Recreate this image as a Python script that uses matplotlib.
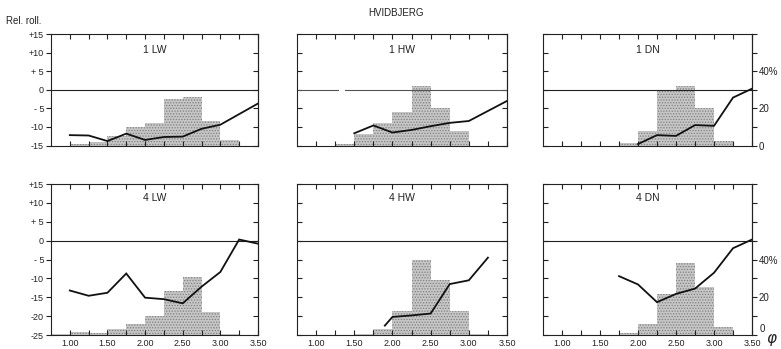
import numpy as np
import matplotlib
matplotlib.use('Agg')
import matplotlib.pyplot as plt

plt.rcParams['font.family'] = ['Liberation Sans', 'DejaVu Sans']
plt.rcParams['hatch.linewidth'] = 0.6
plt.rcParams['hatch.color'] = '#808080'

# classes de phi (limite esquerda, largura 0.25)
bins = np.arange(0.75, 3.50, 0.25)

# frequencia (%) por classe -- eixo da direita
freq_1lw = [0, 1, 2, 5, 10, 12, 25, 26, 13, 3, 0]
freq_1hw = [0, 0, 1, 6, 12, 18, 32, 20, 8, 0, 0]
freq_1dn = [0, 0, 0, 0, 1.5, 8, 30, 32, 20, 2.5, 0]
freq_4lw = [0.6, 1.8, 1.2, 3, 6, 10, 23.5, 30.5, 12, 0.6, 0]
freq_4hw = [0, 0, 0, 0.8, 3, 12.5, 40, 29, 12.5, 0.8, 0]
freq_4dn = [0, 0, 0, 0, 1, 6, 21.5, 38, 25.5, 4, 0]

# rolamento relativo
x_1lw = [1.00, 1.25, 1.50, 1.75, 2.00, 2.25, 2.50, 2.75, 3.00, 3.50]
y_1lw = [-12.2, -12.3, -13.8, -11.8, -13.5, -12.7, -12.6, -10.5, -9.4, -3.7]
x_1hw = [1.50, 1.75, 2.00, 2.25, 2.50, 2.75, 3.00, 3.50]
y_1hw = [-11.7, -9.6, -11.5, -10.8, -9.8, -8.9, -8.4, -3.0]
x_1dn = [2.00, 2.25, 2.50, 2.75, 3.00, 3.25, 3.50]
y_1dn = [-14.6, -12.2, -12.4, -9.5, -9.7, -2.1, 0.3]
x_4lw = [1.00, 1.25, 1.50, 1.75, 2.00, 2.25, 2.50, 2.75, 3.00, 3.25, 3.50]
y_4lw = [-13.2, -14.6, -13.8, -8.7, -15.1, -15.5, -16.6, -12.2, -8.3, 0.3, -0.8]
x_4hw = [1.90, 2.00, 2.25, 2.50, 2.75, 3.00, 3.25]
y_4hw = [-22.5, -20.2, -19.8, -19.3, -11.5, -10.5, -4.5]
x_4dn = [1.75, 2.00, 2.25, 2.50, 2.75, 3.00, 3.25, 3.50]
y_4dn = [-9.4, -11.6, -16.3, -14.1, -12.7, -8.5, -2.0, 0.3]

yt_top = [15, 10, 5, 0, -5, -10, -15]
yl_top = ['+15', '+10', '+ 5', '0', '- 5', '-10', '-15']
yt_bot = [15, 10, 5, 0, -5, -10, -15, -20, -25]
yl_bot = ['+15', '+10', '+ 5', '0', '- 5', '-10', '-15', '-20', '-25']

xt = np.arange(1.0, 3.51, 0.25)
xl = ['%.2f' % v if abs(v * 2 - round(v * 2)) < 1e-6 else '' for v in xt]

fig = plt.figure(figsize=(7.81, 3.49), dpi=100)

lefts = [0.0653, 0.3803, 0.6953]
widths = [0.2650, 0.2689, 0.2676]

paineis = [
    ('1 LW', freq_1lw, x_1lw, y_1lw, 0, 0),
    ('1 HW', freq_1hw, x_1hw, y_1hw, 0, 1),
    ('1 DN', freq_1dn, x_1dn, y_1dn, 0, 2),
    ('4 LW', freq_4lw, x_4lw, y_4lw, 1, 0),
    ('4 HW', freq_4hw, x_4hw, y_4hw, 1, 1),
    ('4 DN', freq_4dn, x_4dn, y_4dn, 1, 2),
]

fs = 6.5
cor = '#222222'
for nome, freq, xs, ys, lin, col in paineis:
    if lin == 0:
        ax = fig.add_axes([lefts[col], 0.583, widths[col], 0.3195])
        ymin, ymax = -15, 15
        yt, yl = yt_top, yl_top
        tpos = 0.855
    else:
        ax = fig.add_axes([lefts[col], 0.040, widths[col], 0.4327])
        ymin, ymax = -25, 15
        yt, yl = yt_bot, yl_bot
        tpos = 0.905

    # histograma pontilhado (% -> unidades do eixo: 2 % por unidade)
    alt = np.array(freq) / 2.0
    ax.bar(bins, alt, width=0.25, bottom=ymin, align='edge',
           facecolor='#c6c6c6', edgecolor='#808080', hatch='......',
           linewidth=0, zorder=1)

    # linha do zero (no 1 HW tem uma falha no tracado)
    if nome == '1 HW':
        ax.plot([0.75, 1.29], [0, 0], color='#555555', lw=0.8, zorder=2)
        ax.plot([1.38, 3.50], [0, 0], color='#555555', lw=0.8, zorder=2)
    else:
        ax.axhline(0, color=cor, lw=0.8, zorder=2)

    ax.plot(xs, ys, color='#111111', lw=1.3, zorder=3, solid_joinstyle='miter')

    ax.set_xlim(0.75, 3.50)
    ax.set_ylim(ymin, ymax)
    for s in ax.spines.values():
        s.set_linewidth(0.8)
        s.set_color(cor)

    ax.set_xticks(xt)
    ax.tick_params(axis='x', direction='in', top=True, bottom=True,
                   length=3.5, width=0.8, labelsize=fs, pad=2.5, colors=cor)
    if lin == 1:
        ax.set_xticklabels(xl)
    else:
        ax.set_xticklabels([])

    ax.set_yticks(yt)
    if col == 0:
        ax.set_yticklabels(yl)
        ax.tick_params(axis='y', direction='out', left=True, right=False,
                       length=3.5, width=0.8, labelsize=fs, pad=1.5, colors=cor)
    else:
        ax.set_yticklabels([])
        ax.tick_params(axis='y', direction='in', left=True, right=False,
                       length=3.5, width=0.8, colors=cor)

    # eixo da direita em porcentagem
    sec = ax.secondary_yaxis('right', functions=(lambda y, m=ymin: 2 * (y - m),
                                                 lambda p, m=ymin: p / 2 + m))
    sec.spines['right'].set_linewidth(0.8)
    sec.spines['right'].set_color(cor)
    pct = [2 * (v - ymin) for v in yt]
    sec.set_yticks(pct)
    if col == 2:
        rot = {20: '20', 40: '40%'}
        if lin == 0:
            rot[0] = '0'
        sec.set_yticklabels([rot.get(int(p), '') for p in pct])
        sec.tick_params(direction='out', length=3.5, width=0.8, labelsize=fs + 0.5,
                        pad=1.5, colors=cor)
        if lin == 1:
            # o "0" de baixo fica um pouco acima do eixo
            ax.text(1.035, 0.04, '0', transform=ax.transAxes, ha='left',
                    va='center', fontsize=fs + 0.5, color=cor)
    else:
        sec.set_yticklabels([])
        sec.tick_params(direction='in', length=3.5, width=0.8, colors=cor)

    ax.text(0.5, tpos, nome, transform=ax.transAxes, ha='center', va='center',
            fontsize=7.5, color=cor)

fig.text(0.507, 0.963, 'HVIDBJERG', ha='center', va='center', fontsize=7, color=cor)
fig.text(0.008, 0.94, 'Rel. roll.', ha='left', va='center', fontsize=7, color=cor)
fig.text(0.988, 0.025, r'$\varphi$', ha='center', va='center', fontsize=11, color=cor)

fig.savefig('out.png', dpi=100, facecolor='white')
